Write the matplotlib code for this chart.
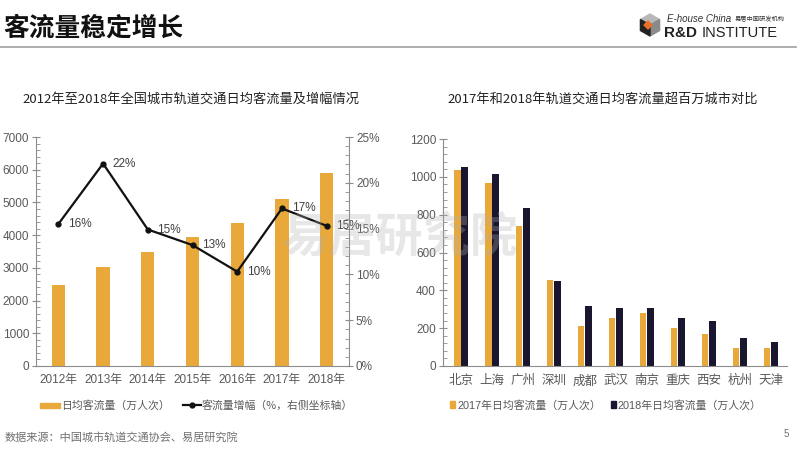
import numpy as np
import matplotlib
matplotlib.use('Agg')
import matplotlib.pyplot as plt
from matplotlib.patches import Polygon, Rectangle
from matplotlib.lines import Line2D
from matplotlib.ticker import MultipleLocator, FuncFormatter

plt.rcParams['font.family'] = ['Liberation Sans', 'Noto Sans CJK SC', 'DejaVu Sans']

# ─── Data ─────────────────────────────────────────────────────────────────────
years = ['2012年', '2013年', '2014年', '2015年', '2016年', '2017年', '2018年']
daily_flow = [2490, 3040, 3480, 3950, 4360, 5120, 5890]
growth_pct = [15.5, 22.1, 14.9, 13.2, 10.3, 17.2, 15.3]
growth_labels = ['16%', '22%', '15%', '13%', '10%', '17%', '15%']

cities = ['北京', '上海', '广州', '深圳', '成都', '武汉', '南京', '重庆', '西安', '杭州', '天津']
flow_2017 = [1038, 967, 738, 455, 212, 252, 279, 203, 168, 95, 95]
flow_2018 = [1052, 1016, 835, 450, 318, 309, 309, 252, 238, 146, 127]

GOLD = '#E8A83A'
NAVY = '#1B1630'
AXC = '#8C8C8C'
TXT = '#595959'
CJK = ['Noto Sans CJK SC', 'DejaVu Sans']

fig = plt.figure(figsize=(8, 4.51), dpi=100)
fig.patch.set_facecolor('white')

# ─── Header ───────────────────────────────────────────────────────────────────
fig.text(0.004, 0.938, '客流量稳定增长', fontsize=18.5, fontweight='bold',
         color='#111111', va='center', ha='left', family=CJK)
fig.add_artist(Line2D([0.0, 0.995], [0.896, 0.896], color='#A0A0A0', lw=1.2))

# logo cube
cx, cy, r = 650 / 800, 1 - 25 / 451, 11
def px(dx, dy):
    return (cx + dx / 800, cy + dy / 451)
hexpts = [px(0, r), px(r * 0.87, r / 2), px(r * 0.87, -r / 2),
          px(0, -r), px(-r * 0.87, -r / 2), px(-r * 0.87, r / 2)]
fig.add_artist(Polygon([hexpts[0], hexpts[1], px(0, 0), hexpts[5]],
                       closed=True, color='#B8B8B8', transform=fig.transFigure))
fig.add_artist(Polygon([px(0, 0), hexpts[1], hexpts[2], hexpts[3]],
                       closed=True, color='#8A8A8A', transform=fig.transFigure))
fig.add_artist(Polygon([px(0, 0), hexpts[3], hexpts[4], hexpts[5]],
                       closed=True, color='#222222', transform=fig.transFigure))
fig.add_artist(Polygon([px(-6, 0), px(-2, 4), px(2, 0), px(-2, -4)],
                       closed=True, color='#E8702A', transform=fig.transFigure))
fig.text(667 / 800, 1 - 19 / 451, 'E-house China', fontsize=7, style='italic',
         color='#333333', va='center', ha='left')
fig.text(735 / 800, 1 - 19 / 451, '易居中国研发机构', fontsize=4.5,
         color='#333333', va='center', ha='left', family=CJK)
fig.text(664 / 800, 1 - 33 / 451, 'R&D', fontsize=11, fontweight='bold',
         color='#222222', va='center', ha='left')
fig.text(702 / 800, 1 - 33 / 451, 'INSTITUTE', fontsize=10.5,
         color='#222222', va='center', ha='left')

# subtitles
fig.text(22 / 800, 1 - 99 / 451, '2012年至2018年全国城市轨道交通日均客流量及增幅情况',
         fontsize=9.5, color='#222222', va='center', ha='left', family=CJK)
fig.text(447 / 800, 1 - 99 / 451, '2017年和2018年轨道交通日均客流量超百万城市对比',
         fontsize=9.5, color='#222222', va='center', ha='left', family=CJK)

# ─── Left chart ───────────────────────────────────────────────────────────────
ax1 = fig.add_axes([36 / 800, 1 - 366 / 451, (349 - 36) / 800, (366 - 137) / 451])
x = np.arange(len(years))
ax1.bar(x, daily_flow, width=0.3, color=GOLD, zorder=2)
ax1.set_xlim(-0.5, 6.5)
ax1.set_ylim(0, 7000)
ax1.yaxis.set_major_locator(MultipleLocator(1000))
ax1.yaxis.set_minor_locator(MultipleLocator(200))
ax1.set_xticks(x)
ax1.set_xticklabels(years)
ax1.tick_params(axis='x', length=0, labelsize=8.5, colors=TXT, pad=6)
ax1.tick_params(axis='y', which='major', direction='inout', length=6,
                color=AXC, labelsize=8.5, labelcolor=TXT, pad=2)
ax1.tick_params(axis='y', which='minor', direction='in', length=3, color=AXC)
for s in ['top', 'right']:
    ax1.spines[s].set_visible(False)
for s in ['left', 'bottom']:
    ax1.spines[s].set_color(AXC)

ax1b = ax1.twinx()
ax1b.plot(x, growth_pct, color='#111111', lw=1.6, marker='o', ms=3.5, zorder=3)
for xi, yi, lab in zip(x, growth_pct, growth_labels):
    ax1b.annotate(lab, (xi, yi), xytext=(7, 0), textcoords='offset points',
                  fontsize=8.5, color='#404040', va='center', ha='left')
ax1b.set_ylim(0, 25)
ax1b.yaxis.set_major_locator(MultipleLocator(5))
ax1b.yaxis.set_minor_locator(MultipleLocator(1))
ax1b.yaxis.set_major_formatter(FuncFormatter(lambda v, p: f'{v:.0f}%'))
ax1b.tick_params(axis='y', which='major', direction='inout', length=6,
                 color=AXC, labelsize=8.5, labelcolor=TXT, pad=2)
ax1b.tick_params(axis='y', which='minor', direction='in', length=3, color=AXC)
for s in ['top', 'left', 'bottom']:
    ax1b.spines[s].set_visible(False)
ax1b.spines['right'].set_color(AXC)

# left legend
fig.add_artist(Rectangle((40 / 800, 1 - 408 / 451), 20 / 800, 5 / 451,
                         color=GOLD, transform=fig.transFigure))
fig.text(61 / 800, 1 - 405 / 451, '日均客流量（万人次）', fontsize=7.8,
         color=TXT, va='center', ha='left', family=CJK)
fig.add_artist(Line2D([183 / 800, 201 / 800], [1 - 405 / 451] * 2, color='#111111',
                      lw=1.6, transform=fig.transFigure))
fig.add_artist(Line2D([192 / 800], [1 - 405 / 451], color='#111111', marker='o', ms=3.5,
                      transform=fig.transFigure))
fig.text(202 / 800, 1 - 405 / 451, '客流量增幅（%，右侧坐标轴）', fontsize=7.8,
         color=TXT, va='center', ha='left', family=CJK)

# ─── Right chart ──────────────────────────────────────────────────────────────
ax2 = fig.add_axes([443 / 800, 1 - 366 / 451, (787 - 443) / 800, (366 - 139) / 451])
xc = np.arange(len(cities))
ax2.bar(xc - 0.115, flow_2017, width=0.2, color=GOLD, zorder=2)
ax2.bar(xc + 0.115, flow_2018, width=0.22, color=NAVY, zorder=2)
ax2.set_xlim(-0.58, 10.52)
ax2.set_ylim(0, 1200)
ax2.yaxis.set_major_locator(MultipleLocator(200))
ax2.yaxis.set_minor_locator(MultipleLocator(40))
ax2.set_xticks(xc)
ax2.set_xticklabels(cities, family=CJK)
ax2.tick_params(axis='x', length=0, labelsize=9, colors=TXT, pad=6)
ax2.tick_params(axis='y', which='major', direction='inout', length=6,
                color=AXC, labelsize=8.5, labelcolor=TXT, pad=2)
ax2.tick_params(axis='y', which='minor', direction='in', length=3, color=AXC)
for s in ['top', 'right']:
    ax2.spines[s].set_visible(False)
for s in ['left', 'bottom']:
    ax2.spines[s].set_color(AXC)

# right legend
fig.add_artist(Rectangle((450 / 800, 1 - 408 / 451), 5 / 800, 7 / 451,
                         color=GOLD, transform=fig.transFigure))
fig.text(457 / 800, 1 - 405 / 451, '2017年日均客流量（万人次）', fontsize=7.8,
         color=TXT, va='center', ha='left')
fig.add_artist(Rectangle((611 / 800, 1 - 408 / 451), 5 / 800, 7 / 451,
                         color=NAVY, transform=fig.transFigure))
fig.text(618 / 800, 1 - 405 / 451, '2018年日均客流量（万人次）', fontsize=7.8,
         color=TXT, va='center', ha='left')

# watermark
fig.text(400 / 800, 1 - 238 / 451, '易居研究院', fontsize=34, fontweight='bold',
         color='#B0B0B0', alpha=0.3, va='center', ha='center', zorder=10,
         family=CJK)

# footer
fig.text(5 / 800, 1 - 437 / 451, '数据来源：中国城市轨道交通协会、易居研究院',
         fontsize=8, color='#707070', va='center', ha='left', family=CJK)
fig.text(786 / 800, 1 - 434 / 451, '5', fontsize=7, color='#707070',
         va='center', ha='center')

plt.savefig('out.png', dpi=100)
